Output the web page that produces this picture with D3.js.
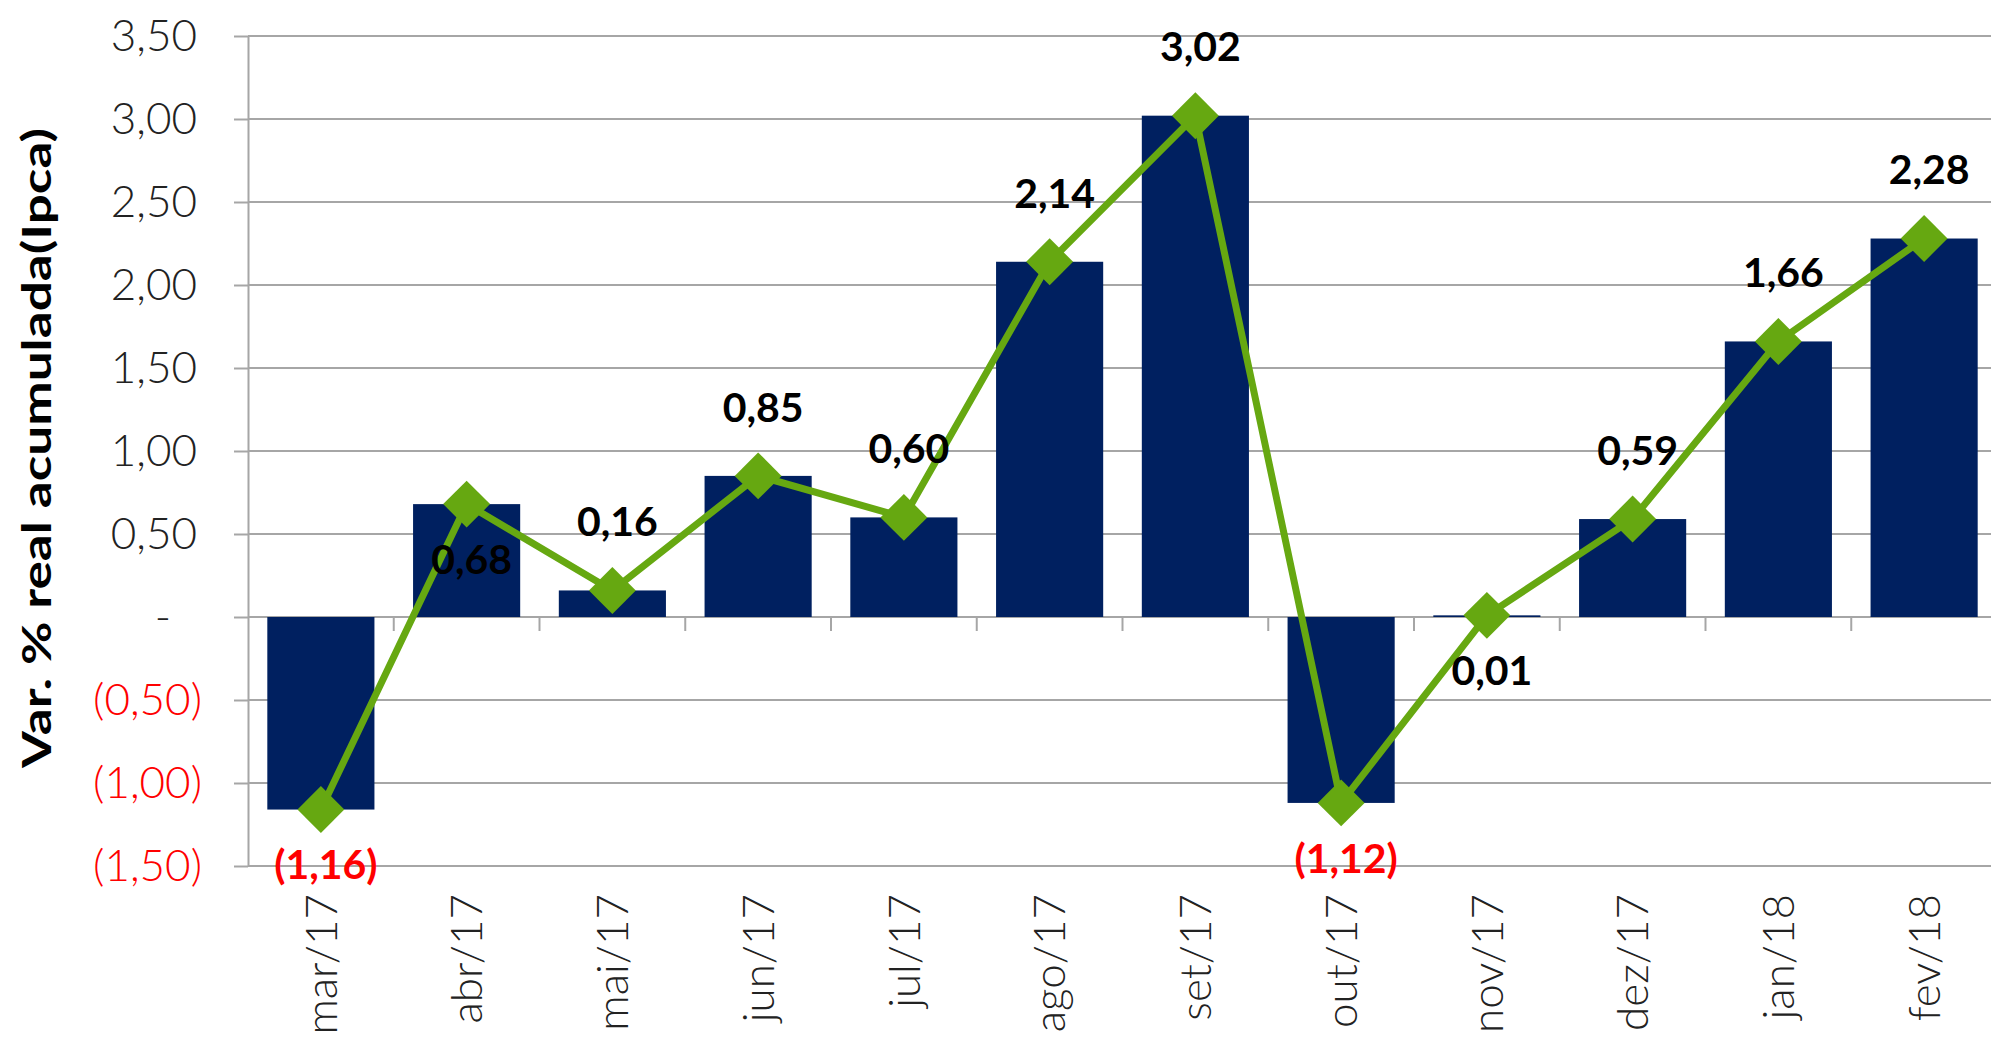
<!DOCTYPE html>
<html lang="pt">
<head>
	<meta charset="UTF-8">
	<title>Var. % real acumulada (Ipca)</title>
	<style>
		body { margin: 0; background: #fff; }
		text { font-family: Lato, "Open Sans", sans-serif; }
	</style>
</head>
<body>
<script src="https://d3js.org/d3.v7.min.js"></script>
<script>
	// categorias e valores
	let categories = ['mar/17', 'abr/17', 'mai/17', 'jun/17', 'jul/17', 'ago/17', 'set/17', 'out/17', 'nov/17', 'dez/17', 'jan/18', 'fev/18'];
	let barValues = [-1.16, 0.68, 0.16, 0.85, 0.60, 2.14, 3.02, -1.12, 0.01, 0.59, 1.66, 2.28];
	let lineValues = [-1.16, 0.68, 0.16, 0.85, 0.60, 2.14, 3.02, -1.12, 0.01, 0.59, 1.66, 2.28];
	let labelSide = ['below', 'below', 'above', 'above', 'above', 'above', 'above', 'below', 'below', 'above', 'above', 'above'];
	let yTicks = [-1.5, -1.0, -0.5, 0, 0.5, 1.0, 1.5, 2.0, 2.5, 3.0, 3.5];

	let width = 1991;
	let height = 1051;
	let padding = { top: 36, right: -6, bottom: 185, left: 248 };

	let fmt = function(v) {
		return d3.format('.2f')(Math.abs(v)).replace('.', ',');
	};
	let label = function(v) {
		if (v === 0) return '-';
		return v < 0 ? '(' + fmt(v) + ')' : fmt(v);
	};

	let xScale = d3.scaleBand()
			.domain(categories)
			.range([padding.left, width - padding.right])
			.paddingInner(0.265)
			.paddingOuter(0.1325);
	let yScale = d3.scaleLinear()
			.domain([-1.5, 3.5])
			.range([height - padding.bottom, padding.top]);

	let svg = d3.select('body')
			.append('svg')
			.attr('width', width)
			.attr('height', height);

	// linhas de grade
	svg.append('g')
			.selectAll('line')
			.data(yTicks)
			.enter()
			.append('line')
			.attr('x1', padding.left)
			.attr('x2', width)
			.attr('y1', function(d) { return yScale(d); })
			.attr('y2', function(d) { return yScale(d); })
			.attr('stroke', '#a6a6a6')
			.attr('stroke-width', 2);

	// eixo y
	let yAxis = d3.axisLeft(yScale)
			.tickValues(yTicks)
			.tickSizeInner(14)
			.tickSizeOuter(0)
			.tickFormat(label);

	let gy = svg.append('g')
			.attr('transform', 'translate(' + padding.left + ',0)')
			.call(yAxis);
	gy.select('.domain').attr('stroke', '#a6a6a6').attr('stroke-width', 2);
	gy.selectAll('.tick line').attr('stroke', '#a6a6a6').attr('stroke-width', 2);
	gy.selectAll('.tick text')
			.attr('x', function(d) { return d === 0 ? -77 : (d < 0 ? -46 : -51); })
			.attr('font-size', '44px')
			.attr('font-weight', 300)
			.attr('fill', function(d) { return d < 0 ? '#ff0000' : '#222'; });

	// marcas do eixo x na linha do zero
	let step = xScale.step();
	svg.append('g')
			.selectAll('line')
			.data(categories.slice(0, -1))
			.enter()
			.append('line')
			.attr('x1', function(d) { return xScale(d) + xScale.bandwidth() / 2 + step / 2; })
			.attr('x2', function(d) { return xScale(d) + xScale.bandwidth() / 2 + step / 2; })
			.attr('y1', yScale(0))
			.attr('y2', yScale(0) + 14)
			.attr('stroke', '#a6a6a6')
			.attr('stroke-width', 2);

	// rótulos do eixo x
	let xAxis = d3.axisBottom(xScale)
			.tickSize(0);
	let gx = svg.append('g')
			.attr('transform', 'translate(0,' + yScale(-1.5) + ')')
			.call(xAxis);
	gx.select('.domain').remove();
	gx.selectAll('.tick text')
			.attr('transform', 'rotate(-90)')
			.attr('text-anchor', 'end')
			.attr('x', -28)
			.attr('y', 0)
			.attr('dy', '0.36em')
			.attr('font-size', '44px')
			.attr('font-weight', 300)
			.attr('fill', '#222');

	// barras
	svg.append('g')
			.selectAll('rect')
			.data(barValues)
			.enter()
			.append('rect')
			.attr('x', function(d, i) { return xScale(categories[i]); })
			.attr('width', xScale.bandwidth())
			.attr('y', function(d) { return yScale(Math.max(0, d)); })
			.attr('height', function(d) { return Math.abs(yScale(d) - yScale(0)); })
			.attr('fill', '#002060');

	// linha
	let linePath = d3.line()
			.x(function(d, i) { return xScale(categories[i]) + xScale.bandwidth() / 2; })
			.y(function(d) { return yScale(d); });

	svg.append('path')
			.attr('d', linePath(lineValues))
			.attr('fill', 'none')
			.attr('stroke', '#66a811')
			.attr('stroke-width', 7)
			.attr('stroke-linejoin', 'round');

	svg.append('g')
			.selectAll('path')
			.data(lineValues)
			.enter()
			.append('path')
			.attr('d', d3.symbol(d3.symbolSquare, 1100))
			.attr('transform', function(d, i) {
				return 'translate(' + (xScale(categories[i]) + xScale.bandwidth() / 2) + ',' + yScale(d) + ') rotate(45)';
			})
			.attr('fill', '#66a811');

	// rótulos de dados
	svg.append('g')
			.selectAll('text')
			.data(lineValues)
			.enter()
			.append('text')
			.text(label)
			.attr('x', function(d, i) { return xScale(categories[i]) + xScale.bandwidth() / 2 + 5; })
			.attr('y', function(d, i) { return yScale(d) + (labelSide[i] === 'above' ? -69 : 55); })
			.attr('dy', '0.36em')
			.attr('text-anchor', 'middle')
			.attr('font-size', '41px')
			.attr('font-weight', 'bold')
			.attr('fill', function(d) { return d < 0 ? '#ff0000' : '#000'; });

	// título do eixo y
	svg.append('text')
			.text('Var. % real acumulada(Ipca)')
			.attr('transform', 'translate(36,448) rotate(-90)')
			.attr('text-anchor', 'middle')
			.attr('dy', '0.36em')
			.attr('font-size', '41px')
			.attr('font-weight', 'bold')
			.attr('textLength', 640)
			.attr('lengthAdjust', 'spacingAndGlyphs')
			.attr('fill', '#000');
</script>
</body>
</html>
